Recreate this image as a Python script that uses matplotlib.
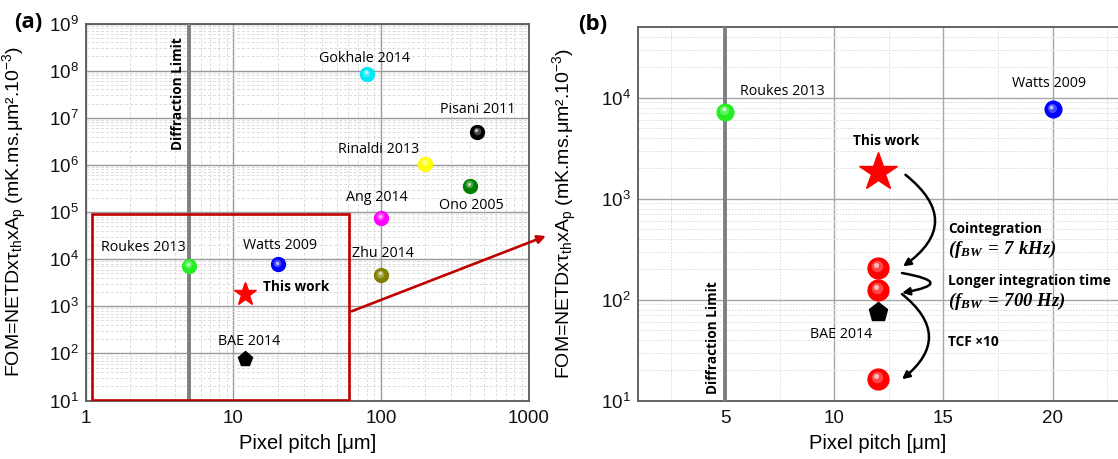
import numpy as np
import matplotlib
matplotlib.use("Agg")
import matplotlib.pyplot as plt
from matplotlib.ticker import FixedLocator, NullFormatter, LogLocator, FixedFormatter
from matplotlib.patches import Rectangle, FancyArrowPatch
import matplotlib.transforms as mtransforms
import matplotlib.colors as mcolors

plt.rcParams['font.family'] = ['Liberation Sans', 'DejaVu Sans']
plt.rcParams['mathtext.fontset'] = 'custom'
plt.rcParams['mathtext.rm'] = 'Liberation Sans'
plt.rcParams['mathtext.it'] = 'Liberation Sans:italic'
plt.rcParams['mathtext.bf'] = 'Liberation Serif:bold:italic'

ANN_FONT = ['Open Sans', 'DejaVu Sans']
REG = 10.3
BOLD = 9.8

# ---------------- data: panel (a) ----------------
a_names = ["Gokhale 2014", "Pisani 2011", "Rinaldi 2013", "Ono 2005", "Ang 2014",
           "Roukes 2013", "Watts 2009", "Zhu 2014"]
a_pitch = [80, 450, 200, 400, 100, 5, 20, 100]
a_fom = [8.5e7, 4.9e6, 1.05e6, 3.6e5, 7.5e4, 7.3e3, 7.7e3, 4.6e3]
a_colors = ["#00e8f8", "#000000", "#ffff00", "#008000", "#ff00ff", "#22ee22", "#0000ff", "#808000"]
this_work_pitch = 12
this_work_fom = 1.85e3
bae_pitch = 12
bae_fom = 75

# ---------------- data: panel (b) ----------------
b_names = ["Roukes 2013", "Watts 2009"]
b_pitch = [5, 20]
b_fom = [7.3e3, 7.7e3]
b_colors = ["#22ee22", "#0000ff"]
improved_pitch = [12, 12, 12]
improved_fom = [206, 125, 16.4]
diffraction_limit = 5

W, H = 1118, 459
fig = plt.figure(figsize=(W / 100, H / 100), dpi=100)
axA = fig.add_axes([85.7 / W, (H - 400.5) / H, (528.6 - 85.7) / W, (400.5 - 23.5) / H])
axB = fig.add_axes([638 / W, (H - 400.7) / H, (1118 - 638) / W, (400.7 - 27.3) / H])


def lighten(c, f):
    r, g, b = mcolors.to_rgb(c)
    return (r + (1 - r) * f, g + (1 - g) * f, b + (1 - b) * f)


def ball(ax, x, y, color, ms):
    ax.plot([x], [y], 'o', ms=ms, color=color, mec=color, zorder=5)
    tr = mtransforms.offset_copy(ax.transData, fig=fig, x=-0.06 * ms, y=0.1 * ms, units='points')
    ax.plot([x], [y], 'o', ms=ms * 0.55, color=lighten(color, 0.35), mec='none',
            zorder=6, transform=tr, alpha=0.8)
    tr2 = mtransforms.offset_copy(ax.transData, fig=fig, x=-0.08 * ms, y=0.14 * ms, units='points')
    ax.plot([x], [y], 'o', ms=ms * 0.25, color=lighten(color, 0.8), mec='none', zorder=7,
            transform=tr2, alpha=0.85)


spine_col = '#595959'
for ax in (axA, axB):
    for s in ax.spines.values():
        s.set_color(spine_col)
        s.set_linewidth(1.3)
    ax.tick_params(which='both', length=0, labelsize=13.5, colors='#111111')
    ax.tick_params(axis='x', pad=7)
    ax.tick_params(axis='y', pad=5)
    ax.set_facecolor('white')

# ---------------- panel (a) ----------------
axA.set_xscale('log')
axA.set_yscale('log')
axA.set_xlim(1, 1000)
axA.set_ylim(10, 1e9)
axA.xaxis.set_major_locator(FixedLocator([1, 10, 100, 1000]))
axA.xaxis.set_major_formatter(FixedFormatter(["1", "10", "100", "1000"]))
axA.xaxis.set_minor_locator(LogLocator(base=10, subs=np.arange(2, 10)))
axA.xaxis.set_minor_formatter(NullFormatter())
axA.yaxis.set_major_locator(LogLocator(base=10, numticks=20))
axA.yaxis.set_minor_locator(LogLocator(base=10, subs=np.arange(2, 10), numticks=20))
axA.yaxis.set_minor_formatter(NullFormatter())
axA.grid(which='major', color='#9a9a9a', lw=1.0)
axA.grid(which='minor', color='#dcdcdc', lw=0.7, ls=(0, (3, 2)))
axA.set_axisbelow(True)

axA.axvline(diffraction_limit, color='#7f7f7f', lw=2.8, zorder=3)
axA.text(4.2, 3.2e7, "Diffraction Limit", rotation=90, ha='center', va='center',
         fontsize=BOLD, fontweight='bold', family=ANN_FONT, zorder=4)

for nm, x, y, c in zip(a_names, a_pitch, a_fom, a_colors):
    ball(axA, x, y, c, 10)

lab_off = {
    "Gokhale 2014": (-2, 15, 'center'),
    "Pisani 2011": (0, 23, 'center'),
    "Rinaldi 2013": (-47, 14, 'center'),
    "Ono 2005": (1, -20, 'center'),
    "Ang 2014": (-4, 20, 'center'),
    "Roukes 2013": (-46, 18, 'center'),
    "Watts 2009": (2, 19, 'center'),
    "Zhu 2014": (2, 22, 'center'),
}
for nm, x, y in zip(a_names, a_pitch, a_fom):
    dx, dy, ha = lab_off[nm]
    axA.annotate(nm, (x, y), xytext=(dx, dy), textcoords='offset pixels', ha=ha, va='center',
                 fontsize=REG, family=ANN_FONT, zorder=8)

axA.plot([this_work_pitch], [this_work_fom], marker='*', ms=17, color='#ff0000', mec='#ff0000', zorder=6)
axA.annotate("This work", (this_work_pitch, this_work_fom), xytext=(18, 7), textcoords='offset pixels',
             ha='left', va='center', fontsize=BOLD, fontweight='bold', family=ANN_FONT)
axA.plot([bae_pitch], [bae_fom], marker='p', ms=11, color='black', zorder=6)
axA.annotate("BAE 2014", (bae_pitch, bae_fom), xytext=(4, 18), textcoords='offset pixels',
             ha='center', va='center', fontsize=REG, family=ANN_FONT)

axA.add_patch(Rectangle((1.108, 10.4), 60.9 - 1.108, 9.2e4 - 10.4, fill=False,
                        ec='#c00000', lw=1.9, zorder=4))

# zoom arrow to panel (b)
start_disp = axA.transData.transform((60.9, 7.45e2))
start_fig = fig.transFigure.inverted().transform(start_disp)
arr = FancyArrowPatch(start_fig, (548.5 / W, 1 - 235 / H), transform=fig.transFigure,
                      arrowstyle='-|>', mutation_scale=12, color='#c00000', lw=1.9)
fig.patches.append(arr)

ylab = "FOM=NETDxτ$_{\\mathrm{th}}$xA$_{\\mathrm{p}}$ (mK.ms.μm².10$^{-3}$)"
axA.set_xlabel("Pixel pitch [μm]", fontsize=14.5, labelpad=5)
axA.set_ylabel(ylab, fontsize=14)
axA.yaxis.set_label_coords(-0.128, 0.5)

# ---------------- panel (b) ----------------
axB.set_yscale('log')
axB.set_xlim(1, 23)
axB.set_ylim(10, 5e4)
axB.spines['right'].set_visible(False)
axB.xaxis.set_major_locator(FixedLocator([5, 10, 15, 20]))
axB.xaxis.set_minor_locator(FixedLocator([2.5, 7.5, 12.5, 17.5, 22.5]))
axB.xaxis.set_minor_formatter(NullFormatter())
axB.yaxis.set_major_locator(LogLocator(base=10, numticks=20))
axB.yaxis.set_minor_locator(LogLocator(base=10, subs=np.arange(2, 10), numticks=20))
axB.yaxis.set_minor_formatter(NullFormatter())
axB.grid(which='major', color='#a6a6a6', lw=1.0)
axB.grid(which='minor', color='#dadada', lw=0.7, ls=(0, (1.5, 1.5)))
axB.set_axisbelow(True)

axB.axvline(diffraction_limit, color='#7f7f7f', lw=2.8, zorder=3)
axB.text(4.45, 42, "Diffraction Limit", rotation=90, ha='center', va='center',
         fontsize=BOLD, fontweight='bold', family=ANN_FONT, zorder=4)

for nm, x, y, c in zip(b_names, b_pitch, b_fom, b_colors):
    ball(axB, x, y, c, 12)
axB.annotate("Roukes 2013", (5, 7.3e3), xytext=(57, 20), textcoords='offset pixels',
             ha='center', va='center', fontsize=REG, family=ANN_FONT)
axB.annotate("Watts 2009", (20, 7.7e3), xytext=(-3, 26), textcoords='offset pixels',
             ha='center', va='center', fontsize=REG, family=ANN_FONT)

axB.plot([this_work_pitch], [this_work_fom], marker='*', ms=29, color='#ff0000', mec='#ff0000', zorder=6)
axB.annotate("This work", (this_work_pitch, this_work_fom), xytext=(8, 31), textcoords='offset pixels',
             ha='center', va='center', fontsize=BOLD, fontweight='bold', family=ANN_FONT)
for y in improved_fom:
    ball(axB, 12, y, '#ff0000', 15)
axB.plot([bae_pitch], [bae_fom], marker='p', ms=14, color='black', zorder=6)
axB.annotate("BAE 2014", (bae_pitch, bae_fom), xytext=(-37, -22), textcoords='offset pixels',
             ha='center', va='center', fontsize=REG, family=ANN_FONT)

# curved arrows
arrow_specs = [((13.26, 1730), (13.15, 214), -0.66),
               ((13.1, 184), (13.1, 117), -2.8),
               ((13.1, 114), (13.1, 16.3), -0.62)]
for (p0, p1, rad) in arrow_specs:
    axB.annotate("", xy=p1, xytext=p0,
                 arrowprops=dict(arrowstyle='-|>', color='black', lw=1.8, mutation_scale=11,
                                 connectionstyle=f"arc3,rad={rad}", shrinkA=0, shrinkB=0),
                 zorder=7)

tx = 15.2
axB.text(tx, 10 ** (2 + (300 - 229) / 101), "Cointegration", ha='left', va='center',
         fontsize=BOLD, fontweight='bold', family=ANN_FONT)
axB.text(tx, 10 ** (2 + (300 - 250) / 101), r"$\mathbf{(f_{BW}\,=\,7\ kHz)}$", ha='left', va='center',
         fontsize=13.5)
axB.text(tx, 10 ** (2 + (300 - 281) / 101), "Longer integration time", ha='left', va='center',
         fontsize=BOLD, fontweight='bold', family=ANN_FONT)
axB.text(tx, 10 ** (2 + (300 - 302) / 101), r"$\mathbf{(f_{BW}\,=\,700\ Hz)}$", ha='left', va='center',
         fontsize=13.5)
axB.text(tx, 10 ** (2 + (300 - 342.7) / 101), "TCF ×10", ha='left', va='center',
         fontsize=BOLD, fontweight='bold', family=ANN_FONT)

axB.set_xlabel("Pixel pitch [μm]", fontsize=14.5, labelpad=5)
axB.set_ylabel(ylab, fontsize=14)
axB.yaxis.set_label_coords(-0.122, 0.5)

fig.text(28 / W, 1 - 22 / H, "(a)", fontsize=16, fontweight='bold', ha='center', va='center', family=ANN_FONT)
fig.text(593 / W, 1 - 25 / H, "(b)", fontsize=16, fontweight='bold', ha='center', va='center', family=ANN_FONT)

fig.savefig("out.png", dpi=100)
